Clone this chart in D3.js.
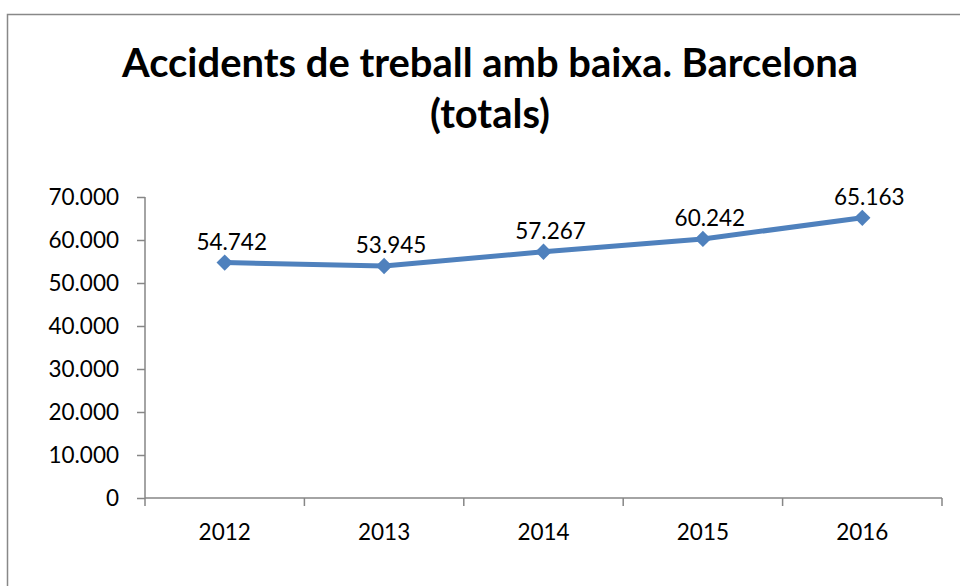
<!DOCTYPE html>
<html>
<head>
<meta charset="utf-8">
<script src="https://cdn.jsdelivr.net/npm/d3@7"></script>
<style>
  html, body { margin: 0; padding: 0; background: #fff; }
  svg { display: block; }
  text { font-family: Lato, "Noto Sans", sans-serif; fill: #000; }
</style>
</head>
<body>
<svg id="chart" width="960" height="586"></svg>
<script>
const titleLines = ["Accidents de treball amb baixa. Barcelona", "(totals)"];
const years = ["2012", "2013", "2014", "2015", "2016"];
const values = [54742, 53945, 57267, 60242, 65163];
const yTicks = [0, 10000, 20000, 30000, 40000, 50000, 60000, 70000];

(function () {
const svg = d3.select("#chart");
const pLeft = 145, pRight = 942, pTop = 197, pBottom = 498;

svg.append("rect")
  .attr("x", 7.5).attr("y", 14.5)
  .attr("width", 1000).attr("height", 1000)
  .attr("fill", "#fff").attr("stroke", "#888").attr("stroke-width", 1.5);

const fmt = v => d3.format(",")(v).replace(/,/g, ".");

const x = d3.scaleBand().domain(years).range([pLeft, pRight]).padding(0);
const y = d3.scaleLinear().domain([0, 70000]).range([pBottom, pTop]);

// title
const title = svg.append("g");
titleLines.forEach((t, i) => {
  title.append("text")
    .attr("x", 490).attr("y", i === 0 ? 77 : 128)
    .attr("text-anchor", "middle")
    .attr("font-weight", "bold")
    .attr("font-size", 35)
    .text(t);
});
const t0 = title.select("text").node();
const w0 = t0.getComputedTextLength();
const fs = 35 * 736 / w0;
title.selectAll("text").attr("font-size", fs);

// y axis
const yAxis = d3.axisLeft(y).tickValues(yTicks).tickFormat(fmt).tickSize(8).tickPadding(18);
const gy = svg.append("g").attr("transform", `translate(${pLeft},0)`).call(yAxis);
gy.select(".domain").attr("stroke", "#868686").attr("stroke-width", 1.5).attr("d", `M0,${pTop}V${pBottom}`);
gy.selectAll(".tick line").attr("stroke", "#868686").attr("stroke-width", 1.5);
gy.selectAll(".tick text").attr("font-size", 22.5).attr("font-family", "Lato, sans-serif").attr("fill", "#000");

// x axis
const gx = svg.append("g").attr("transform", `translate(0,${pBottom})`);
gx.append("line").attr("x1", pLeft).attr("x2", pRight).attr("y1", 0).attr("y2", 0)
  .attr("stroke", "#868686").attr("stroke-width", 1.5);
const bounds = years.map(d => x(d)).concat([x(years[years.length - 1]) + x.bandwidth()]);
gx.selectAll("line.tk").data(bounds).join("line").attr("class", "tk")
  .attr("x1", d => d).attr("x2", d => d).attr("y1", 0).attr("y2", 8)
  .attr("stroke", "#868686").attr("stroke-width", 1.5);
gx.selectAll("text").data(years).join("text")
  .attr("x", d => x(d) + x.bandwidth() / 2)
  .attr("y", 42)
  .attr("text-anchor", "middle")
  .attr("font-size", 22.5)
  .text(d => d);

// line
const pts = years.map((d, i) => ({ year: d, v: values[i] }));
const line = d3.line().x(d => x(d.year) + x.bandwidth() / 2).y(d => y(d.v));
svg.append("path").datum(pts).attr("d", line)
  .attr("fill", "none").attr("stroke", "#4F81BD").attr("stroke-width", 5)
  .attr("stroke-linejoin", "round");

// markers
svg.selectAll("path.mk").data(pts).join("path").attr("class", "mk")
  .attr("d", d3.symbol().type(d3.symbolDiamond2).size(170))
  .attr("transform", d => `translate(${x(d.year) + x.bandwidth() / 2},${y(d.v)})`)
  .attr("fill", "#4F81BD");

// labels
svg.selectAll("text.lbl").data(pts).join("text").attr("class", "lbl")
  .attr("x", d => x(d.year) + x.bandwidth() / 2 + 7)
  .attr("y", d => y(d.v) - 13)
  .attr("text-anchor", "middle")
  .attr("font-size", 22.5)
  .text(d => fmt(d.v));
})();
</script>
</body>
</html>
